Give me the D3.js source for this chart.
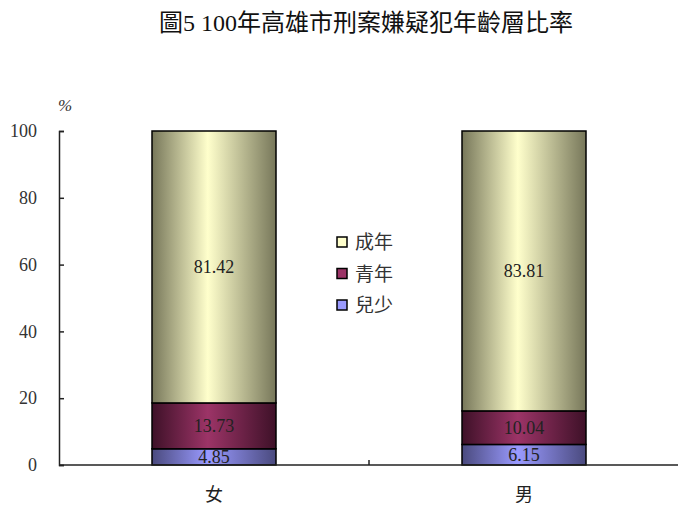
<!DOCTYPE html>
<html>
<head>
<meta charset="utf-8">
<script src="https://cdn.jsdelivr.net/npm/d3@7"></script>
<style>
  body { margin: 0; background: #fff; }
</style>
</head>
<body>
<div id="chart"></div>
<script>
// data
const categories = ["女", "男"]
const seriesNames = ["兒少", "青年", "成年"]
const youthValues = [4.85, 6.15]
const youngAdultValues = [13.73, 10.04]
const adultValues = [81.42, 83.81]
const yTicks = [0, 20, 40, 60, 80, 100]
const titleText = "圖5 100年高雄市刑案嫌疑犯年齡層比率"

const width = 678, height = 507
const margin = { top: 131, left: 59 }
const plotW = 620, plotH = 334
const serif = "'Liberation Serif', 'Times New Roman', 'DejaVu Serif', 'Noto Sans CJK TC', serif"
const cjk = "'Noto Sans CJK TC', sans-serif"

// gradient colors per series: [edge, center]
const seriesColors = {
  "兒少": ["#4a4a7e", "#9a9aff"],
  "青年": ["#3e1128", "#9c3467"],
  "成年": ["#77775a", "#ffffcc"]
}

const svg = d3.select("#chart").append("svg")
  .attr("width", width)
  .attr("height", height)

const defs = svg.append("defs")
seriesNames.forEach((name, i) => {
  const g = defs.append("linearGradient")
    .attr("id", "grad" + i)
    .attr("x1", "0%").attr("x2", "100%").attr("y1", "0%").attr("y2", "0%")
  g.append("stop").attr("offset", "0%").attr("stop-color", seriesColors[name][0])
  g.append("stop").attr("offset", "45%").attr("stop-color", seriesColors[name][1])
  g.append("stop").attr("offset", "100%").attr("stop-color", seriesColors[name][0])
})

// title
svg.append("text")
  .attr("x", 366).attr("y", 31)
  .attr("text-anchor", "middle")
  .attr("font-family", serif)
  .attr("font-size", 24)
  .attr("fill", "#111")
  .text(titleText)

const plot = svg.append("g")
  .attr("transform", "translate(" + margin.left + "," + margin.top + ")")

const xScale = d3.scaleBand()
  .domain(categories)
  .range([0, plotW])
  .paddingInner(0.6)
  .paddingOuter(0.3)

const yScale = d3.scaleLinear()
  .domain([0, 100])
  .range([plotH, 0])

// stack data
const rows = categories.map((c, i) => ({
  cat: c,
  "兒少": youthValues[i],
  "青年": youngAdultValues[i],
  "成年": adultValues[i]
}))
const stacked = d3.stack().keys(seriesNames)(rows)

stacked.forEach((layer, li) => {
  const g = plot.append("g")
  g.selectAll("rect")
    .data(layer)
    .join("rect")
    .attr("x", d => xScale(d.data.cat))
    .attr("y", d => yScale(Math.min(d[1], 100)))
    .attr("width", xScale.bandwidth())
    .attr("height", d => yScale(d[0]) - yScale(Math.min(d[1], 100)))
    .attr("fill", "url(#grad" + li + ")")
    .attr("stroke", "#000")
    .attr("stroke-width", 1.5)

  g.selectAll("text")
    .data(layer)
    .join("text")
    .attr("x", d => xScale(d.data.cat) + xScale.bandwidth() / 2)
    .attr("y", d => (yScale(d[0]) + yScale(Math.min(d[1], 100))) / 2 + 6)
    .attr("text-anchor", "middle")
    .attr("font-family", serif)
    .attr("font-size", 18)
    .attr("fill", "#222")
    .text(d => d.data[layer.key].toFixed(2))
})

// y axis
const yAxis = d3.axisLeft(yScale).tickValues(yTicks).tickSize(-5).tickPadding(22)
const yG = plot.append("g").call(yAxis)
  .attr("font-family", serif)
  .attr("font-size", 18)
yG.select(".domain").attr("stroke", "#222").attr("stroke-width", 1.5)
yG.selectAll(".tick line").attr("stroke", "#222").attr("stroke-width", 1.5)
yG.selectAll(".tick text").attr("fill", "#333")

// x axis
const xG = plot.append("g").attr("transform", "translate(0," + plotH + ")")
xG.append("line")
  .attr("x1", 0).attr("x2", plotW)
  .attr("stroke", "#222").attr("stroke-width", 1.5)
// category boundary tick
xG.append("line")
  .attr("x1", plotW / 2).attr("x2", plotW / 2)
  .attr("y1", 0).attr("y2", -5)
  .attr("stroke", "#222").attr("stroke-width", 1.5)
xG.selectAll(".cat")
  .data(categories)
  .join("text")
  .attr("class", "cat")
  .attr("x", d => xScale(d) + xScale.bandwidth() / 2)
  .attr("y", 36)
  .attr("text-anchor", "middle")
  .attr("font-family", cjk)
  .attr("font-size", 18)
  .attr("fill", "#222")
  .text(d => d)

// unit label
svg.append("text")
  .attr("x", 65).attr("y", 111)
  .attr("text-anchor", "middle")
  .attr("font-family", serif)
  .attr("font-size", 17)
  .attr("font-style", "italic")
  .attr("fill", "#333")
  .text("%")

// legend (top-down: 成年, 青年, 兒少)
const legendItems = seriesNames.slice().reverse()
const legend = svg.append("g").attr("transform", "translate(337,237)")
legendItems.forEach((name, i) => {
  const row = legend.append("g").attr("transform", "translate(0," + i * 31.5 + ")")
  row.append("rect")
    .attr("width", 10).attr("height", 10)
    .attr("fill", seriesColors[name][1])
    .attr("stroke", "#000").attr("stroke-width", 1.5)
  row.append("text")
    .attr("x", 18).attr("y", 12)
    .attr("font-family", cjk)
    .attr("font-size", 19)
    .attr("fill", "#333")
    .text(name)
})
</script>
</body>
</html>
